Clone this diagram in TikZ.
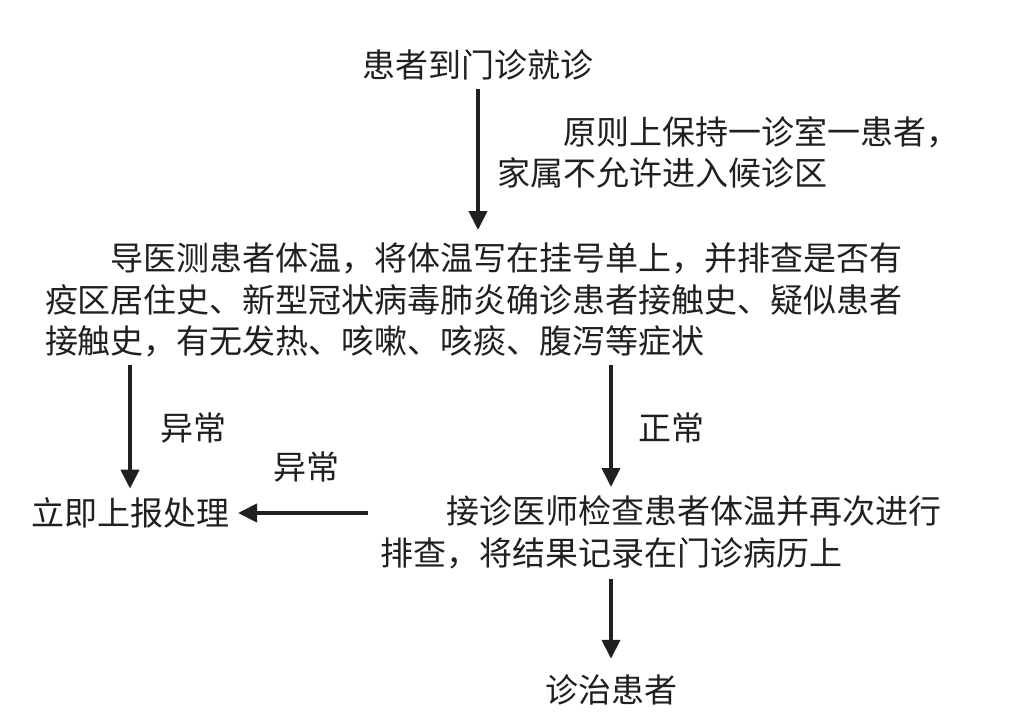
\documentclass[tikz,border=0pt]{standalone}
\usepackage{fontspec}
\setmainfont{Noto Sans CJK SC}
\usetikzlibrary{arrows.meta,calc}
\definecolor{ink}{HTML}{231F20}
\begin{document}
\begin{tikzpicture}[x=1pt,y=1pt,
  txt/.style={inner sep=0pt,outer sep=0pt,text=ink,font=\fontsize{33}{41.5}\selectfont},
  block/.style={txt,align=left,anchor=north west},
  lbl/.style={txt},
  arr/.style={draw=ink,line width=4pt,-{Triangle[length=19pt,width=18pt]}}]
\useasboundingbox (0,0) rectangle (1015,-725);
\fill[white] (0,0) rectangle (1015,-725);
\node[txt] (top) at (478,-65) {患者到门诊就诊};
\node[block] (anno) at (497,-116) {\hspace*{2em}原则上保持一诊室一患者，\\家属不允许进入候诊区};
\node[block] (n1) at (45,-243) {\hspace*{2em}导医测患者体温，将体温写在挂号单上，并排查是否有\\疫区居住史、新型冠状病毒肺炎确诊患者接触史、疑似患者\\接触史，有无发热、咳嗽、咳痰、腹泻等症状};
\node[txt] (abn) at (130,-513) {立即上报处理};
\node[block] (doc) at (380,-496) {\hspace*{2em}接诊医师检查患者体温并再次进行\\排查，将结果记录在门诊病历上};
\node[txt] (treat) at (611,-690) {诊治患者};
\node[lbl,anchor=west] (l1) at (160,-428) {异常};
\node[lbl,anchor=west] (l2) at (638,-428) {正常};
\node[lbl] (l3) at (306,-467) {异常};
\draw[arr] ($(top.south)+(0pt,-9pt)$) -- ($(top.south |- n1.north)+(0pt,13pt)$);
\draw[arr] ($(abn.north |- n1.south)+(0pt,-8pt)$) -- ($(abn.north)+(0pt,9pt)$);
\draw[arr] ($(treat.north |- n1.south)+(0pt,-8pt)$) -- ($(treat.north |- doc.north)+(0pt,9pt)$);
\draw[arr] ($(doc.west |- abn.east)+(-12pt,0pt)$) -- ($(abn.east)+(9pt,0pt)$);
\draw[arr] ($(treat.north |- doc.south)+(0pt,-10pt)$) -- ($(treat.north)+(0pt,16pt)$);
\end{tikzpicture}
\end{document}
